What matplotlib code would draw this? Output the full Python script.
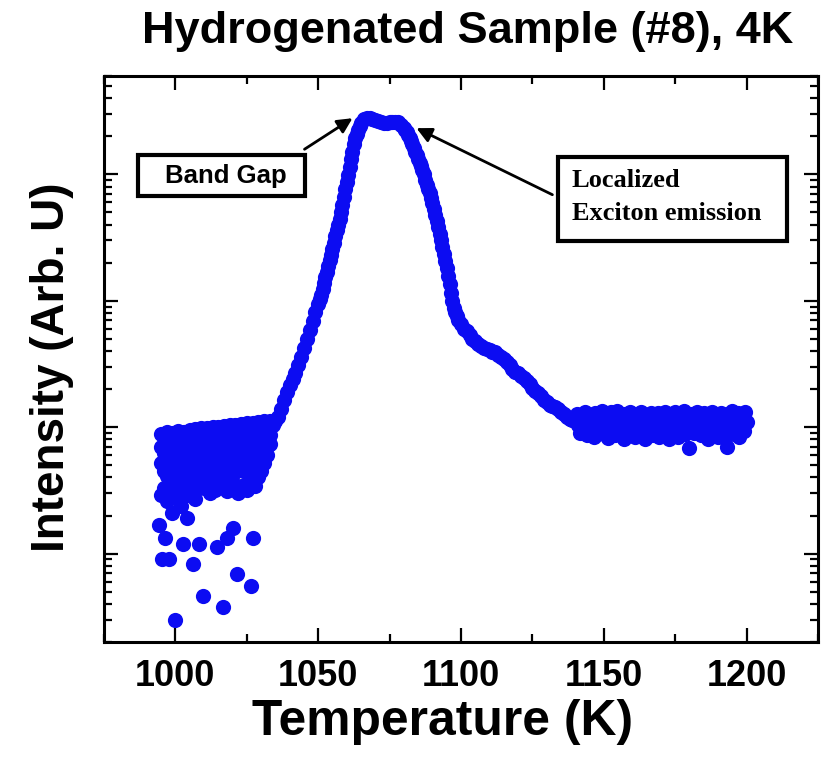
import numpy as np
import matplotlib
matplotlib.use('Agg')
import matplotlib.pyplot as plt
from matplotlib.patches import Rectangle
from matplotlib.ticker import LogLocator, MultipleLocator, NullFormatter

# noisy onset, several readings per temperature
noisy_T = list(range(995, 1034))
noisy_I = [
    [88, 70, 52, 29], [84, 63, 45, 33], [91, 76, 41, 26],
    [86, 67, 35], [90, 55, 39, 28], [87, 72, 44, 32],
    [93, 79, 57, 30], [89, 50, 36, 24], [92, 74, 60, 43],
    [88, 65, 34, 29], [95, 56, 38], [90, 78, 52, 31],
    [97, 62, 45, 27], [92, 68, 40], [98, 83, 58, 35],
    [94, 64, 47, 33], [99, 76, 38], [95, 86, 54, 30],
    [100, 66, 43], [96, 79, 52, 32], [101, 60, 48, 37],
    [97, 88, 41, 34], [103, 72, 57], [99, 84, 63, 39, 31],
    [104, 69, 50], [100, 90, 60, 36], [105, 78, 44, 33],
    [101, 86, 56, 30], [106, 70, 52], [102, 92, 62, 45, 35],
    [107, 81, 49, 32], [103, 88, 67, 42], [108, 76, 54, 37],
    [104, 94, 64, 34], [109, 83, 52, 40], [106, 96, 70, 45],
    [111, 88, 64, 52], [108, 98, 80, 60], [112, 100, 86, 74],
]

# isolated low readings
sparse_T = [994.4, 996.5, 995.4, 997.9, 1002.5, 1006.0, 1008.4, 1009.8, 1014.7,
            1016.8, 1018.2, 1020.0, 1021.7, 1026.3, 1027.3, 1000.0, 998.9, 1003.9]
sparse_I = [16.7, 13.4, 9.1, 9.1, 12.0, 8.2, 12.0, 4.6, 11.2,
            3.8, 13.4, 15.8, 6.9, 5.5, 13.4, 3.0, 20.8, 19.0]

# main emission band
curve_T = [1033, 1034, 1035, 1036, 1037, 1038, 1039, 1040, 1041, 1042, 1043, 1044,
           1045, 1046, 1047, 1048, 1049, 1050, 1050.5, 1051, 1051.5, 1052, 1052.5,
           1053, 1053.5, 1054, 1054.5, 1055, 1055.5, 1056, 1056.5, 1057, 1057.5,
           1058, 1058.5, 1059, 1059.5, 1060, 1060.5, 1061, 1061.5, 1062, 1062.5,
           1063, 1063.5, 1064, 1064.5, 1065, 1066, 1067, 1068, 1069, 1070, 1071,
           1072, 1073, 1074, 1075, 1076, 1077, 1078, 1079, 1080, 1080.5, 1081,
           1081.5, 1082, 1082.5, 1083, 1083.5, 1084, 1084.5, 1085, 1085.5, 1086,
           1086.5, 1087, 1087.5, 1088, 1088.5, 1089, 1089.5, 1090, 1090.5, 1091,
           1091.5, 1092, 1092.5, 1093, 1093.5, 1094, 1094.5, 1095, 1095.5, 1096,
           1096.5, 1097, 1097.5, 1098, 1098.5, 1099, 1100, 1101, 1102, 1103, 1104,
           1105, 1106, 1107, 1108, 1109, 1110, 1111, 1112, 1113, 1114, 1115, 1116,
           1117, 1118, 1119, 1120, 1121, 1122, 1123, 1124, 1125, 1126, 1127, 1128,
           1129, 1130, 1131, 1132, 1133, 1134, 1135, 1136, 1137, 1138, 1139, 1140]
curve_I = [100, 105, 112, 120, 140, 165, 190, 215, 240, 270, 310, 360,
           420, 500, 590, 690, 810, 950, 1030, 1120, 1250, 1380, 1530,
           1700, 1880, 2090, 2320, 2570, 2880, 3240, 3600, 3980, 4450,
           5000, 5750, 6600, 7600, 8700, 9950, 11500, 13200, 15100, 17300,
           19300, 21000, 22500, 24200, 25700, 27300, 27900, 27900, 27400, 26800, 26300,
           25800, 25500, 25500, 25800, 26100, 26100, 25800, 24700, 23200, 22500, 21700,
           20600, 19500, 18500, 17400, 16200, 15100, 14100, 13200, 12400, 11700,
           10900, 10000, 9100, 8300, 7700, 7100, 6500, 5900, 5300, 4800,
           4300, 3800, 3400, 3000, 2650, 2340, 2070, 1820, 1580, 1350,
           1160, 1000, 880, 810, 760, 710, 650, 600, 575, 540, 500,
           480, 455, 435, 425, 415, 405, 395, 390, 370, 360, 345, 330,
           310, 290, 275, 268, 255, 245, 230, 220, 205, 195, 185, 175,
           165, 158, 150, 147, 144, 138, 132, 126, 120, 117, 115, 112]

# high temperature background
flat_T = np.arange(1140.5, 1200.01, 0.5)
flat_I = [126, 104, 90, 120, 112, 94, 132, 86, 108, 124, 98, 116, 84, 130, 104, 92, 122, 108, 134, 88,
          100, 126, 82, 112, 131, 96, 118, 86, 134, 104, 92, 124, 110, 81, 128, 100, 114, 132, 90, 106,
          120, 83, 127, 104, 96, 133, 88, 116, 80, 125, 100, 112, 130, 86, 108, 122, 94, 129, 83, 104,
          118, 92, 133, 100, 110, 80, 126, 104, 90, 131, 114, 84, 123, 98, 108, 134, 88, 118, 94, 68,
          106, 128, 90, 112, 132, 96, 120, 86, 104, 129, 92, 114, 81, 125, 100, 133, 90, 110, 122, 84,
          108, 129, 96, 118, 82, 70, 126, 92, 112, 134, 88, 116, 100, 130, 83, 106, 123, 94, 131, 110]

x_ticks = [1000, 1050, 1100, 1150, 1200]

sans = 'Liberation Sans'
serif = 'Liberation Serif'
blue = '#0c0cf2'
dot = 120

fig = plt.figure(figsize=(8.25, 7.59), dpi=100)
ax = fig.add_axes([0.1261, 0.1542, 0.8654, 0.7457])

nx = [t for t, row in zip(noisy_T, noisy_I) for _ in row]
ny = [v for row in noisy_I for v in row]
ax.scatter(nx, ny, s=dot, color=blue, lw=0)
ax.scatter(sparse_T, sparse_I, s=dot, color=blue, lw=0)
ax.scatter(curve_T, curve_I, s=dot, color=blue, lw=0)
ax.scatter(flat_T, flat_I, s=dot, color=blue, lw=0)

ax.set_yscale('log')
ax.set_xlim(975, 1225)
ax.set_ylim(2.0, 6.0e4)
ax.set_xticks(x_ticks)
ax.xaxis.set_minor_locator(MultipleLocator(25))
ax.yaxis.set_major_locator(LogLocator(base=10))
ax.yaxis.set_minor_locator(LogLocator(base=10, subs=np.arange(2, 10)))
ax.yaxis.set_major_formatter(NullFormatter())
ax.yaxis.set_minor_formatter(NullFormatter())
ax.tick_params(which='both', direction='in', top=True, right=True, width=1.6)
ax.tick_params(which='major', length=10)
ax.tick_params(which='minor', length=6)
ax.tick_params(axis='x', which='major', pad=12, labelsize=26)
for lab in ax.get_xticklabels():
    lab.set_fontfamily(sans)
    lab.set_fontweight('bold')
for s in ax.spines.values():
    s.set_linewidth(2.2)

# annotation boxes
ax.add_patch(Rectangle((0.0476, 0.788), 0.2339, 0.0724, transform=ax.transAxes,
                       fill=False, lw=3, ec='black', zorder=5))
ax.text(0.0854, 0.824, 'Band Gap', transform=ax.transAxes, fontsize=18.5,
        fontfamily=sans, fontweight='bold', va='center', ha='left')
ax.add_patch(Rectangle((0.636, 0.7085), 0.3206, 0.1485, transform=ax.transAxes,
                       fill=False, lw=3, ec='black', zorder=5))
ax.text(0.655, 0.804, 'Localized', transform=ax.transAxes, fontsize=19,
        fontfamily=serif, fontweight='bold', va='baseline', ha='left')
ax.text(0.655, 0.7456, 'Exciton emission', transform=ax.transAxes, fontsize=19,
        fontfamily=serif, fontweight='bold', va='baseline', ha='left')

arrow = dict(arrowstyle='-|>,head_length=0.9,head_width=0.45', color='black', lw=2,
             shrinkA=0, shrinkB=0)
ax.annotate('', xy=(1062, 27800), xytext=(1045.2, 15800), arrowprops=arrow)
ax.annotate('', xy=(1084.4, 23200), xytext=(1132, 6900), arrowprops=arrow)

fig.text(0.567, 0.958, 'Hydrogenated Sample (#8), 4K', fontsize=32.5,
         fontfamily=sans, fontweight='bold', ha='center', va='center')
fig.text(0.536, 0.049, 'Temperature (K)', fontsize=35.8,
         fontfamily=sans, fontweight='bold', ha='center', va='center')
fig.text(0.063, 0.516, 'Intensity (Arb. U)', fontsize=33, rotation=90,
         fontfamily=sans, fontweight='bold', ha='center', va='center')

fig.savefig('out.png', dpi=100)
